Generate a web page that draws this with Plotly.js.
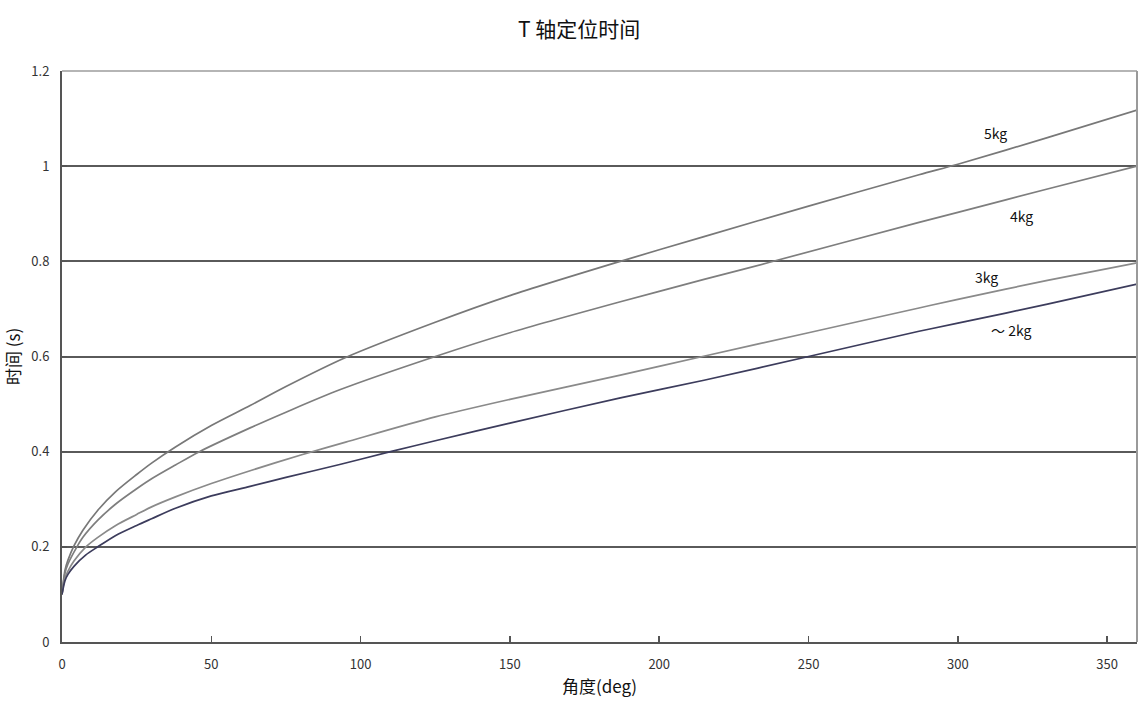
<!DOCTYPE html>
<html>
<head>
<meta charset="utf-8">
<script src="https://cdn.plot.ly/plotly-3.0.1.min.js"></script>
<style>html,body{margin:0;padding:0;background:#fff;}#chart{width:1147px;height:706px;}</style>
</head>
<body>
<div id="chart"></div>
<script>
const deg5 = [0, 1, 2, 4, 7, 12, 18, 25, 30, 38, 50, 63, 75, 95, 125, 150, 187, 215, 250, 287, 300, 330, 360];
const t5   = [0.10, 0.151, 0.172, 0.202, 0.235, 0.277, 0.316, 0.352, 0.376, 0.41, 0.455, 0.497, 0.537, 0.598, 0.672, 0.728, 0.80, 0.852, 0.916, 0.982, 1.004, 1.06, 1.118];

const deg4 = [0, 1, 2, 5, 7, 12, 18, 25, 30, 38, 46, 63, 75, 93, 125, 150, 187, 215, 237, 287, 300, 330, 360];
const t4   = [0.10, 0.145, 0.164, 0.20, 0.22, 0.256, 0.29, 0.322, 0.343, 0.372, 0.40, 0.45, 0.483, 0.53, 0.60, 0.65, 0.715, 0.762, 0.798, 0.882, 0.903, 0.952, 1.00];

const deg3 = [0, 1, 2, 4, 8, 12, 18, 25, 30, 38, 50, 63, 80, 95, 125, 150, 187, 214.5, 250, 287, 300, 330, 360];
const t3   = [0.10, 0.135, 0.149, 0.17, 0.20, 0.22, 0.245, 0.268, 0.284, 0.305, 0.333, 0.36, 0.393, 0.42, 0.473, 0.51, 0.561, 0.60, 0.65, 0.702, 0.72, 0.76, 0.797];

const deg2 = [0, 1, 2, 4, 8, 12, 18, 25, 30, 38, 50, 63, 75, 93, 110, 125, 150, 187, 215, 250, 287, 300, 330, 360];
const t2   = [0.10, 0.129, 0.142, 0.159, 0.183, 0.20, 0.224, 0.245, 0.259, 0.281, 0.307, 0.327, 0.346, 0.373, 0.40, 0.423, 0.46, 0.513, 0.55, 0.60, 0.653, 0.67, 0.71, 0.752];

const seriesNames = ['5kg', '4kg', '3kg', '～ 2kg'];
const labelX = [312.7, 321.4, 309.5, 317.7];
const labelY = [1.07, 0.896, 0.768, 0.656];

const titleText = 'T 轴定位时间';
const xTitle = '角度(deg)';
const yTitle = '时间 (s)';

const font = '"Noto Sans CJK SC", "Noto Sans", sans-serif';

const traces = [
  {x: deg5, y: t5, color: '#787878', name: seriesNames[0]},
  {x: deg4, y: t4, color: '#7e7e7e', name: seriesNames[1]},
  {x: deg3, y: t3, color: '#8a8a8a', name: seriesNames[2]},
  {x: deg2, y: t2, color: '#3c3c5c', name: seriesNames[3]}
].map(s => ({
  x: s.x, y: s.y, type: 'scatter', mode: 'lines', name: s.name,
  line: {color: s.color, width: 1.7, shape: 'spline', smoothing: 0.8},
  hoverinfo: 'x+y'
}));

const annotations = seriesNames.map((n, i) => ({
  x: labelX[i], y: labelY[i], xref: 'x', yref: 'y', text: n, showarrow: false,
  font: {family: font, size: 14, color: '#111'}
}));

const layout = {
  width: 1147, height: 706,
  paper_bgcolor: '#fff', plot_bgcolor: '#fff',
  margin: {l: 62, r: 10, t: 71, b: 64},
  showlegend: false,
  title: {text: titleText, x: 0.505, xanchor: 'center', y: 0.958, yanchor: 'middle',
          font: {family: font, size: 21, color: '#111'}},
  xaxis: {
    range: [0, 360], tickvals: [0, 50, 100, 150, 200, 250, 300, 350],
    ticks: 'inside', ticklen: 6, tickcolor: '#555', tickwidth: 1.5,
    showgrid: false, zeroline: false,
    showline: true, linecolor: '#555', linewidth: 2,
    ticklabelstandoff: 9,
    tickfont: {family: font, size: 13, color: '#333'},
    title: {text: xTitle, font: {family: font, size: 17, color: '#111'}, standoff: 10}
  },
  yaxis: {
    range: [0, 1.2], tickvals: [0, 0.2, 0.4, 0.6, 0.8, 1, 1.2],
    ticktext: ['0', '0.2', '0.4', '0.6', '0.8', '1', '1.2'],
    ticks: 'inside', ticklen: 5, tickcolor: '#555', tickwidth: 1.5,
    showgrid: true, gridcolor: '#5a5a5a', gridwidth: 2, zeroline: false,
    showline: true, linecolor: '#555', linewidth: 2,
    ticklabelstandoff: 8,
    tickfont: {family: font, size: 13, color: '#333'},
    title: {text: yTitle, font: {family: font, size: 17, color: '#111'}, standoff: 10}
  },
  shapes: [
    {type: 'line', xref: 'paper', yref: 'paper', x0: 0, x1: 1, y0: 1, y1: 1,
     line: {color: '#b5b5b5', width: 2}, layer: 'above'},
    {type: 'line', xref: 'paper', yref: 'paper', x0: 1, x1: 1, y0: 0, y1: 1,
     line: {color: '#9a9a9a', width: 2}, layer: 'above'}
  ],
  annotations: annotations
};

Plotly.newPlot('chart', traces, layout, {displayModeBar: false, staticPlot: true});
</script>
</body>
</html>
